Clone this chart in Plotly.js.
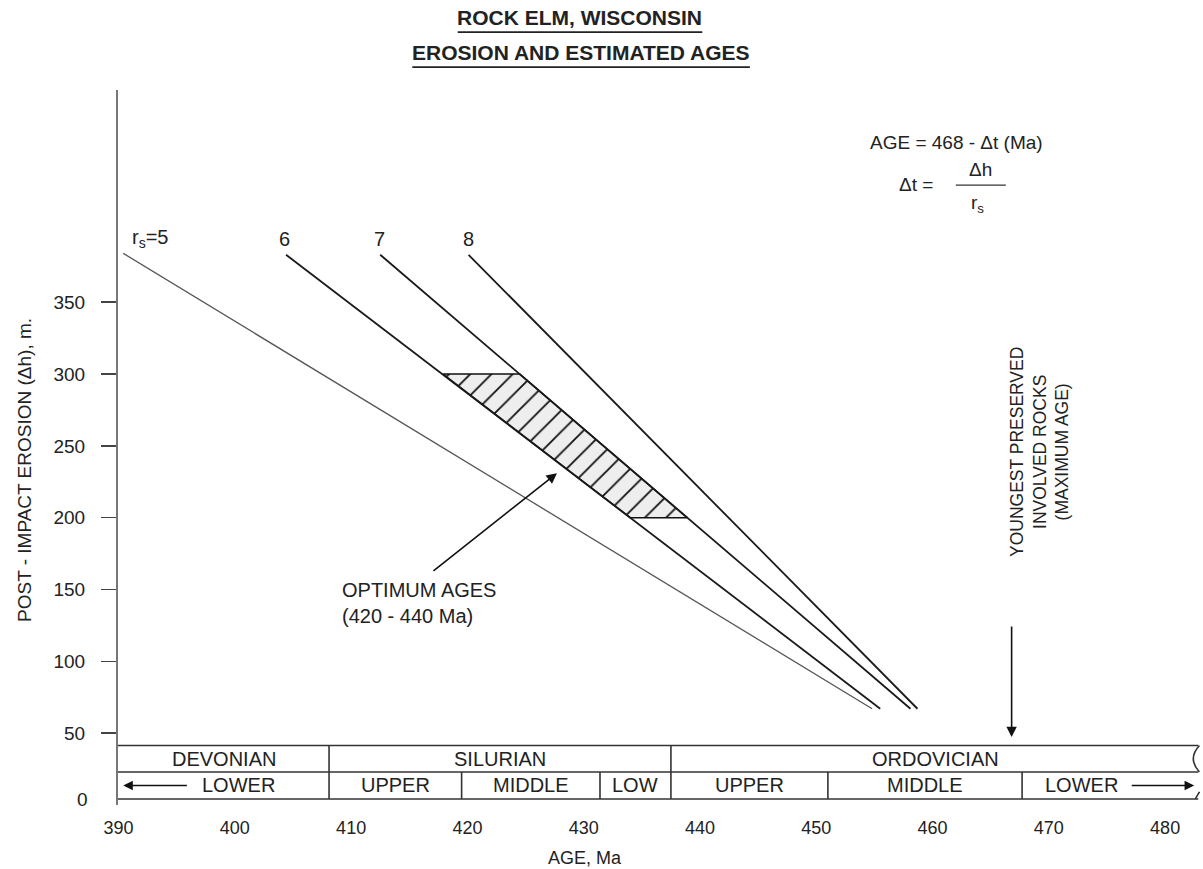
<!DOCTYPE html>
<html><head><meta charset="utf-8">
<script src="https://cdn.plot.ly/plotly-3.0.1.min.js"></script>
<style>html,body{margin:0;padding:0;background:#fff;}#chart{width:1203px;height:869px;}</style>
</head><body><div id="chart"></div>
<script>
// ---- data ----
const rsValues = [5, 6, 7, 8];
const rsLabels = ['r<sub>s</sub>=5', '6', '7', '8'];
const lineAgeStart = [390.4, 404.4, 412.5, 420.1];
const lineAgeEnd = [454.8, 455.5, 458.1, 458.7];
const lineDhStart = [384, 383, 383, 383];
const lineDhEnd = [67, 67, 67, 67];
const hatchAge = [417.9, 424.5, 438.9, 434.0];
const hatchDh = [300, 300, 200, 200];
const periodNames = ['DEVONIAN', 'SILURIAN', 'ORDOVICIAN'];
const periodBounds = [389.95, 408.1, 437.5, 483.0];
const epochNames = ['LOWER', 'UPPER', 'MIDDLE', 'LOW', 'UPPER', 'MIDDLE', 'LOWER'];
const epochBounds = [389.95, 408.1, 419.5, 431.4, 437.5, 451.0, 467.7, 483.0];
const xTicks = [390, 400, 410, 420, 430, 440, 450, 460, 470, 480];
const yTicks = [50, 100, 150, 200, 250, 300, 350];
const youngestAge = 466.8;
const optimumText = 'OPTIMUM AGES<br>(420 - 440 Ma)';

// ---- styling ----
const FONT = 'Liberation Sans, Arial, sans-serif';
const TXT = '#222';
const barTop = 41.4, barMid = 23.0, barBot = 4.2;
const xMin = 389.95, xMax = 483.0;

const traces = [];
traces.push({
  x: hatchAge.concat([hatchAge[0]]), y: hatchDh.concat([hatchDh[0]]),
  type: 'scatter', mode: 'lines', fill: 'toself',
  fillcolor: '#eeeeee',
  fillpattern: {shape: '/', fgcolor: '#111', bgcolor: '#eeeeee', size: 15, solidity: 0.12},
  line: {color: '#111', width: 1.6}, hoverinfo: 'skip', showlegend: false
});
rsValues.forEach((r, i) => {
  traces.push({
    x: [lineAgeStart[i], lineAgeEnd[i]], y: [lineDhStart[i], lineDhEnd[i]],
    type: 'scatter', mode: 'lines', name: 'rs=' + r,
    line: {color: i === 0 ? '#555' : '#1a1a1a', width: i === 0 ? 1.3 : 1.8},
    showlegend: false
  });
});

const shapes = [];
const barLine = {color: '#333', width: 1.6};
[barTop, barMid, barBot].forEach(yv => {
  shapes.push({type: 'line', xref: 'x', yref: 'y', x0: xMin, x1: 482.85, y0: yv, y1: yv, line: barLine});
});
periodBounds.slice(1, -1).forEach(b => {
  shapes.push({type: 'line', xref: 'x', yref: 'y', x0: b, x1: b, y0: barMid, y1: barTop, line: barLine});
});
epochBounds.slice(1, -1).forEach(b => {
  shapes.push({type: 'line', xref: 'x', yref: 'y', x0: b, x1: b, y0: barBot, y1: barMid, line: barLine});
});
// wavy break at right end of the time bar
shapes.push({type: 'path', xref: 'x', yref: 'y',
  path: `M 482.95 ${barTop} Q 481.9 ${(barTop + barMid) / 2} 482.95 ${barMid}`, line: barLine});
shapes.push({type: 'path', xref: 'x', yref: 'y',
  path: `M 482.6 ${barBot} L 482.95 ${barBot + 5}`, line: barLine});
// fraction bar in formula
shapes.push({type: 'line', xref: 'x', yref: 'y', x0: 462.0, x1: 466.3, y0: 431.5, y1: 431.5, line: {color: '#333', width: 1.3}});
// title underlines
shapes.push({type: 'line', xref: 'paper', yref: 'paper', x0: 0.314, x1: 0.540, y0: 1.081, y1: 1.081, line: {color: '#222', width: 1.6}});
shapes.push({type: 'line', xref: 'paper', yref: 'paper', x0: 0.272, x1: 0.584, y0: 1.032, y1: 1.032, line: {color: '#222', width: 1.6}});

const ann = [];
const tf = (s) => ({family: FONT, size: s, color: TXT});
function txt(o) {
  return Object.assign({showarrow: false, xanchor: 'center', yanchor: 'middle', xref: 'x', yref: 'y'}, o);
}
// period labels
periodNames.forEach((n, i) => {
  ann.push(txt({x: (periodBounds[i] + periodBounds[i + 1]) / 2, y: (barTop + barMid) / 2, text: n, font: tf(20)}));
});
// epoch labels
epochNames.forEach((n, i) => {
  let xc = (epochBounds[i] + epochBounds[i + 1]) / 2;
  if (i === 0) xc = 400.3;
  if (i === epochNames.length - 1) xc = 472.85;
  ann.push(txt({x: xc, y: (barMid + barBot) / 2, text: n, font: tf(20)}));
});
// arrows in the epoch row
ann.push({x: 390.4, y: (barMid + barBot) / 2, ax: 396.0, ay: (barMid + barBot) / 2, xref: 'x', yref: 'y', axref: 'x', ayref: 'y',
  text: '', showarrow: true, arrowhead: 2, arrowsize: 1.2, arrowwidth: 1.6, arrowcolor: '#111'});
ann.push({x: 482.5, y: (barMid + barBot) / 2, ax: 477.0, ay: (barMid + barBot) / 2, xref: 'x', yref: 'y', axref: 'x', ayref: 'y',
  text: '', showarrow: true, arrowhead: 2, arrowsize: 1.2, arrowwidth: 1.6, arrowcolor: '#111'});
// line labels
const lblX = [392.7, 404.31, 412.48, 420.05];
rsValues.forEach((r, i) => {
  ann.push(txt({x: lblX[i], y: 394, text: rsLabels[i], font: tf(20)}));
});
// formula
ann.push(txt({x: 462.1, y: 461.5, text: 'AGE = 468 - Δt (Ma)', font: tf(19)}));
ann.push(txt({x: 458.6, y: 432, text: 'Δt =', font: tf(19)}));
ann.push(txt({x: 464.1, y: 442.6, text: 'Δh', font: tf(19)}));
ann.push(txt({x: 463.9, y: 418.5, text: 'r<sub>s</sub>', font: tf(19)}));
// optimum
ann.push(txt({x: 409.0, y: 140.6, text: optimumText, xanchor: 'left', align: 'left', font: tf(20)}));
ann.push({x: 427.7, y: 231, ax: 416.95, ay: 162.2, xref: 'x', yref: 'y', axref: 'x', ayref: 'y',
  text: '', showarrow: true, arrowhead: 2, arrowsize: 1.3, arrowwidth: 1.6, arrowcolor: '#111'});
// youngest preserved
ann.push(txt({x: 469.24, y: 245.7, text: 'YOUNGEST PRESERVED<br>INVOLVED ROCKS<br>(MAXIMUM AGE)',
  textangle: -90, align: 'center', font: tf(17.5)}));
ann.push({x: youngestAge, y: 47.3, ax: youngestAge, ay: 125.3, xref: 'x', yref: 'y', axref: 'x', ayref: 'y',
  text: '', showarrow: true, arrowhead: 2, arrowsize: 1.3, arrowwidth: 1.6, arrowcolor: '#111'});
// zero label on y axis
ann.push(txt({x: -0.026, y: 3.5, xref: 'paper', text: '0', xanchor: 'right', font: tf(19)}));
// titles
ann.push(txt({x: 0.4265, y: 1.102, xref: 'paper', yref: 'paper', text: '<b>ROCK ELM, WISCONSIN</b>', font: tf(21)}));
ann.push(txt({x: 0.4275, y: 1.053, xref: 'paper', yref: 'paper', text: '<b>EROSION AND ESTIMATED AGES</b>', font: tf(21)}));
ann.push(txt({x: 0.4316, y: -0.074, xref: 'paper', yref: 'paper', text: 'AGE, Ma', font: tf(18)}));
ann.push(txt({x: -0.0869, y: 0.4685, xref: 'paper', yref: 'paper', text: 'POST - IMPACT EROSION (Δh), m.', textangle: -90, font: tf(19)}));

const layout = {
  width: 1203, height: 869,
  margin: {l: 118, r: 3, t: 90, b: 64},
  paper_bgcolor: '#fff', plot_bgcolor: '#fff',
  showlegend: false,
  font: {family: FONT, color: TXT, size: 18},
  xaxis: {range: [xMin, xMax], tickvals: xTicks, ticktext: xTicks.map(String), showline: false, showgrid: false,
    zeroline: false, ticks: '', ticklabelstandoff: 10, tickfont: tf(18)},
  yaxis: {range: [0, 497.7], tickvals: yTicks, ticktext: yTicks.map(String), showline: true, linecolor: '#777', linewidth: 2,
    showgrid: false, zeroline: false, ticks: 'outside', ticklen: 15, tickwidth: 1.5, tickcolor: '#444',
    ticklabelstandoff: 12, tickfont: tf(19)},
  shapes: shapes,
  annotations: ann
};
Plotly.newPlot('chart', traces, layout, {displayModeBar: false, staticPlot: true});
</script></body></html>
